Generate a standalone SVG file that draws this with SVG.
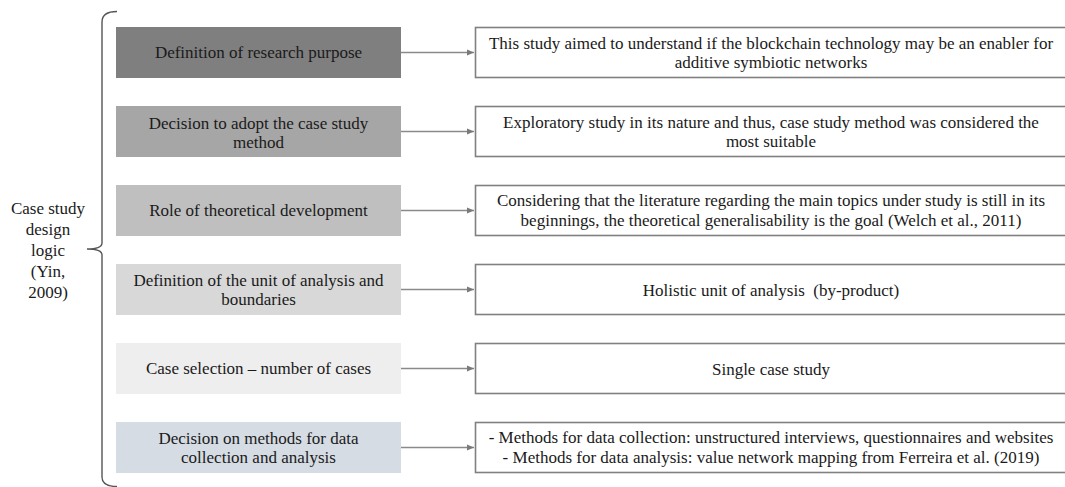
<svg xmlns="http://www.w3.org/2000/svg" width="1065" height="487" viewBox="0 0 1065 487">
<style>
text{font-family:'Liberation Serif','Times New Roman',Tinos,'DejaVu Serif',serif;font-size:17px;fill:#1a1a1a;text-anchor:middle}
.l{stroke:none}
.r{fill:#fff;stroke:#808080;stroke-width:1.6}
.c{stroke:#8a8a8a;stroke-width:1.3;fill:none}
.brace{stroke:#555;stroke-width:1.4;fill:none}
</style>
<defs>
<marker id="ah" markerWidth="8" markerHeight="8" refX="7" refY="4" orient="auto" markerUnits="userSpaceOnUse">
<path d="M0,1 L7,4 L0,7 Z" fill="#7a7a7a"/>
</marker>
</defs>
<rect width="1065" height="487" fill="#fff"/>
<g id="label">
<path class="brace" d="M117,11.5 Q102,11.5 102,22 L102,243 Q102,249 87,249 Q102,249 102,255 L102,477 Q102,486.5 117,486.5"/>
<text x="48" y="214" font-family="Liberation Serif, serif">Case study</text>
<text x="48" y="235">design</text>
<text x="48" y="256">logic</text>
<text x="48" y="277">(Yin,</text>
<text x="48" y="298">2009)</text>
</g>
<g id="connectors">
<line class="c" x1="401" y1="52.5" x2="474" y2="52.5" marker-end="url(#ah)"/>
<line class="c" x1="401" y1="131.5" x2="474" y2="131.5" marker-end="url(#ah)"/>
<line class="c" x1="401" y1="210.5" x2="474" y2="210.5" marker-end="url(#ah)"/>
<line class="c" x1="401" y1="289.5" x2="474" y2="289.5" marker-end="url(#ah)"/>
<line class="c" x1="401" y1="368.5" x2="474" y2="368.5" marker-end="url(#ah)"/>
<line class="c" x1="401" y1="447.5" x2="474" y2="447.5" marker-end="url(#ah)"/>
</g>
<g id="step1">
<rect class="l" x="116" y="27" width="285" height="51" fill="#7f7f7f"/>
<text x="258.5" y="58">Definition of research purpose</text>
</g>
<g id="step2">
<rect class="l" x="116" y="106" width="285" height="51" fill="#a6a6a6"/>
<text x="258.5" y="128.5">Decision to adopt the case study</text>
<text x="258.5" y="148">method</text>
</g>
<g id="step3">
<rect class="l" x="116" y="185" width="285" height="51" fill="#bfbfbf"/>
<text x="258.5" y="216">Role of theoretical development</text>
</g>
<g id="step4">
<rect class="l" x="116" y="264" width="285" height="51" fill="#d8d8d8"/>
<text x="258.5" y="285.5">Definition of the unit of analysis and</text>
<text x="258.5" y="305">boundaries</text>
</g>
<g id="step5">
<rect class="l" x="116" y="343" width="285" height="51" fill="#eeeeee"/>
<text x="258.5" y="374">Case selection – number of cases</text>
</g>
<g id="step6">
<rect class="l" x="116" y="422" width="285" height="51" fill="#d5dce4"/>
<text x="258.5" y="443.5">Decision on methods for data</text>
<text x="258.5" y="463">collection and analysis</text>
</g>
<g id="detail1">
<rect class="r" x="475.5" y="27.5" width="595" height="50"/>
<text x="771" y="48.5">This study aimed to understand if the blockchain technology may be an enabler for</text>
<text x="771" y="68">additive symbiotic networks</text>
</g>
<g id="detail2">
<rect class="r" x="475.5" y="106.5" width="595" height="50"/>
<text x="771" y="127.5">Exploratory study in its nature and thus, case study method was considered the</text>
<text x="771" y="147">most suitable</text>
</g>
<g id="detail3">
<rect class="r" x="475.5" y="185.5" width="595" height="50"/>
<text x="771" y="206">Considering that the literature regarding the main topics under study is still in its</text>
<text x="771" y="225.5">beginnings, the theoretical generalisability is the goal (Welch et al., 2011)</text>
</g>
<g id="detail4">
<rect class="r" x="475.5" y="264.5" width="595" height="50"/>
<text x="771" y="296" xml:space="preserve">Holistic unit of analysis  (by-product)</text>
</g>
<g id="detail5">
<rect class="r" x="475.5" y="343.5" width="595" height="50"/>
<text x="771" y="375">Single case study</text>
</g>
<g id="detail6">
<rect class="r" x="475.5" y="422.5" width="595" height="50"/>
<text x="771" y="443">- Methods for data collection: unstructured interviews, questionnaires and websites</text>
<text x="771" y="462.5">- Methods for data analysis: value network mapping from Ferreira et al. (2019)</text>
</g>
</svg>
